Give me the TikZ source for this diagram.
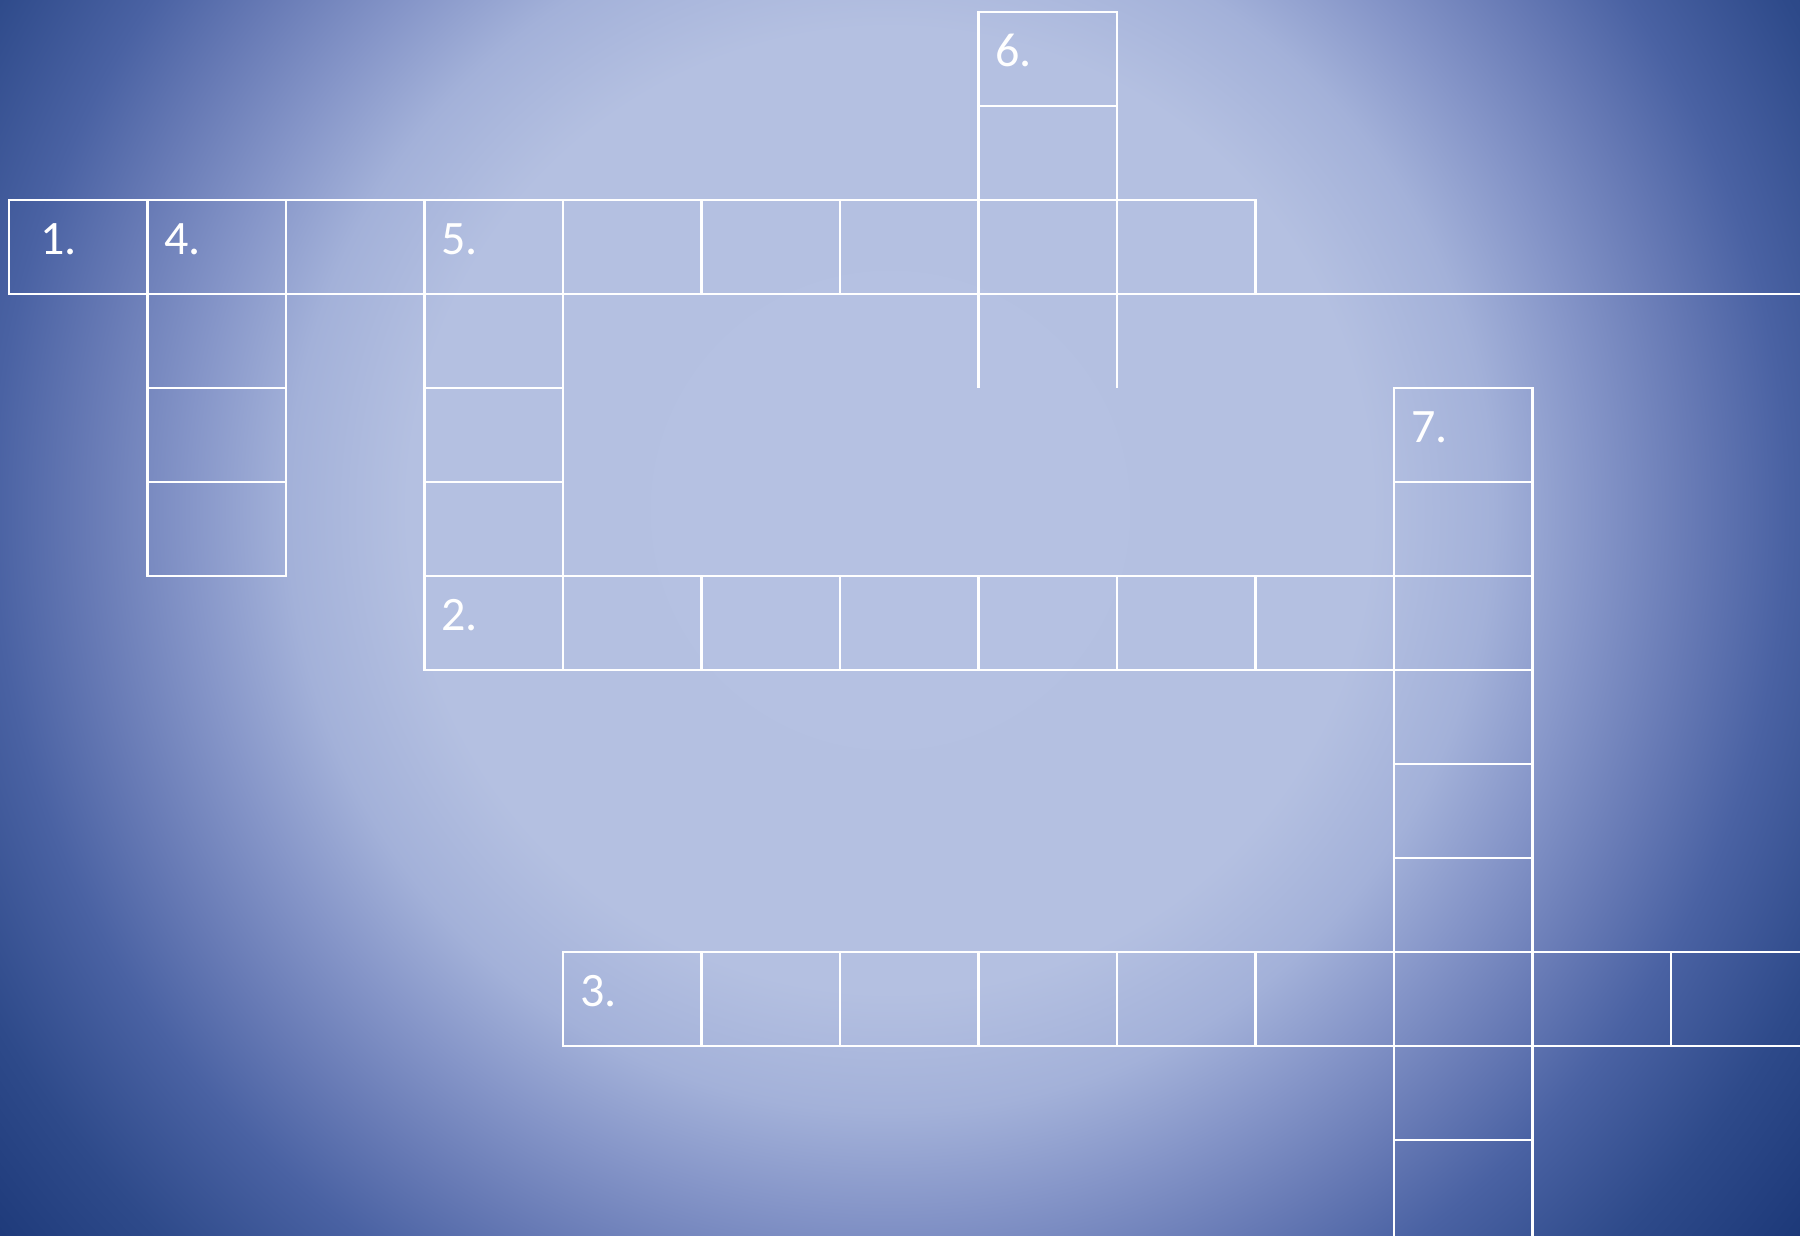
\documentclass[tikz,border=0pt]{standalone}
\usepackage{fontspec}
\setmainfont{Carlito}
\usetikzlibrary{calc}
\definecolor{g0}{RGB}{181,193,226}
\definecolor{g1}{RGB}{180,192,225}
\definecolor{g2}{RGB}{163,177,217}
\definecolor{g3}{RGB}{133,149,200}
\definecolor{g4}{RGB}{103,122,181}
\definecolor{g5}{RGB}{74,98,163}
\definecolor{g6}{RGB}{46,74,138}
\definecolor{g7}{RGB}{30,58,122}
\definecolor{g8}{RGB}{26,52,114}
\pgfdeclareradialshading{bgshade}{\pgfpointorigin}{color(0bp)=(g0); color(480bp)=(g1); color(600bp)=(g2); color(700bp)=(g3); color(800bp)=(g4); color(893bp)=(g5); color(1026bp)=(g6); color(1150bp)=(g7); color(1200bp)=(g8)}
\tikzset{
  cell/.style={rectangle, draw=white, line width=2.2pt, minimum width=138.5pt, minimum height=94pt, inner sep=0pt, outer sep=0pt},
  gridline/.style={draw=white, line width=2.2pt},
  lbl/.style={text=white, font=\fontsize{48}{56}\selectfont, inner sep=0pt, outer sep=0pt, anchor=base west}
}
\newcommand\cellat[2]{\node[cell] (c#1-#2) at ({78.25+138.5*#1},{59+94*#2}) {};}
\begin{document}
\begin{tikzpicture}[x=1pt,y=-1pt]
\useasboundingbox (0,0) rectangle (1800,1235);
\begin{scope}
\clip (0,0) rectangle (1800,1235);
\node[inner sep=0pt, outer sep=0pt] (bg) at (890,510) {\pgfuseshading{bgshade}};
% row 1 (across 1)
\foreach \i in {0,...,8} {\cellat{\i}{2}}
% column 4.
\foreach \j in {3,4,5} {\cellat{1}{\j}}
% column 5.
\foreach \j in {3,4,5} {\cellat{3}{\j}}
% column 6.
\foreach \j in {0,1} {\cellat{7}{\j}}
% row 2.
\foreach \i in {3,...,10} {\cellat{\i}{6}}
% column 7.
\foreach \j in {4,5,7,8,9,11} {\cellat{10}{\j}}
% row 3.
\foreach \i in {4,...,12} {\cellat{\i}{10}}
% open extensions
\coordinate (edgeR) at (1815,0);
\coordinate (edgeB) at (0,1260);
\draw[gridline] (c8-2.south east) -- (c8-2.south east -| edgeR);
\coordinate (s6a) at ($(c7-2.south west)+(0,94)$);
\coordinate (s6b) at ($(c7-2.south east)+(0,94)$);
\draw[gridline] (c7-2.south west) -- (s6a);
\draw[gridline] (c7-2.south east) -- (s6b);
\draw[gridline] (c10-11.south west) -- (c10-11.south west |- edgeB);
\draw[gridline] (c10-11.south east) -- (c10-11.south east |- edgeB);
\end{scope}
% labels
\node[lbl] (n1) at ($(c0-2.north west)+(31,54.5)$) {1.};
\node[lbl] (n4) at ($(c1-2.north west)+(17,54.5)$) {4.};
\node[lbl] (n5) at ($(c3-2.north west)+(17,54.5)$) {5.};
\node[lbl] (n6) at ($(c7-0.north west)+(17,54.5)$) {6.};
\node[lbl] (n7) at ($(c10-4.north west)+(17,54.5)$) {7.};
\node[lbl] (n2) at ($(c3-6.north west)+(17,54.5)$) {2.};
\node[lbl] (n3) at ($(c4-10.north west)+(17,54.5)$) {3.};
\end{tikzpicture}
\end{document}
